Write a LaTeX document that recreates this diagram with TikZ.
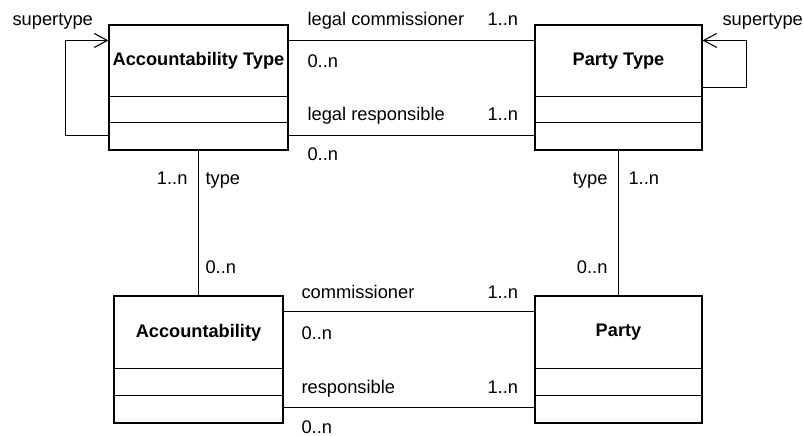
\documentclass[tikz,border=0pt]{standalone}
\usepackage{fontspec}
\setmainfont{Liberation Sans}
\usetikzlibrary{arrows.meta}

\begin{document}
\begin{tikzpicture}[x=1pt, y=-1pt, line width=1.1pt,
  every node/.style={font=\fontsize{18.3}{21}\selectfont, inner sep=0pt},
  classbox/.style={draw, rectangle},
  classname/.style={font=\fontsize{18.2}{21}\selectfont\bfseries},
  role/.style={anchor=base west},
  roleleft/.style={anchor=base east},
  super/.style={-{Straight Barb[length=13pt,width=14pt]}}]

  \useasboundingbox (0,0) rectangle (803,436);

  % classes
  \node (acctype) at (198.5, 87.5) [classbox, minimum width=179pt, minimum height=125pt] {};
  \node (acctype-name) at (198.5, 61) [classname] {Accountability Type};
  \draw ([yshift=-72pt]acctype.north west) -- ([yshift=-72pt]acctype.north east);
  \draw ([yshift=-98pt]acctype.north west) -- ([yshift=-98pt]acctype.north east);

  \node (partytype) at (618.5, 87.5) [classbox, minimum width=167pt, minimum height=125pt] {};
  \node (partytype-name) at (618.5, 61) [classname] {Party Type};
  \draw ([yshift=-72pt]partytype.north west) -- ([yshift=-72pt]partytype.north east);
  \draw ([yshift=-98pt]partytype.north west) -- ([yshift=-98pt]partytype.north east);

  \node (acc) at (198.5, 359.5) [classbox, minimum width=169pt, minimum height=127pt] {};
  \node (acc-name) at (198.5, 332.5) [classname] {Accountability};
  \draw ([yshift=-73pt]acc.north west) -- ([yshift=-73pt]acc.north east);
  \draw ([yshift=-100pt]acc.north west) -- ([yshift=-100pt]acc.north east);

  \node (party) at (618.5, 359.5) [classbox, minimum width=167pt, minimum height=127pt] {};
  \node (party-name) at (618.5, 332.5) [classname] {Party};
  \draw ([yshift=-73pt]party.north west) -- ([yshift=-73pt]party.north east);
  \draw ([yshift=-100pt]party.north west) -- ([yshift=-100pt]party.north east);

  % associations
  \draw ([yshift=-16pt]acctype.north east) -- ([yshift=-16pt]partytype.north west);
  \draw ([yshift=15pt]acctype.south east) -- ([yshift=15pt]partytype.south west);
  \draw ([yshift=-16pt]acc.north east) -- ([yshift=-16pt]party.north west);
  \draw ([yshift=16pt]acc.south east) -- ([yshift=16pt]party.south west);
  \draw (acctype.south) -- (acc.north);
  \draw (partytype.south) -- (party.north);

  % supertype loops
  \draw[super] ([yshift=15pt]acctype.south west) -- ++(-43,0) |- ([yshift=-16pt]acctype.north west);
  \draw[super] (partytype.east) -- ++(44,0) |- ([yshift=-16pt]partytype.north east);

  % roles and multiplicities
  \node (super-acc) at (12,26) [role] {supertype};
  \node (super-party) at (722,26) [role] {supertype};

  \node (lc-role) at (307,26) [role] {legal commissioner};
  \node (lc-many) at (487,26) [role] {1..n};
  \node (lc-acc) at (307,67) [role] {0..n};
  \node (lr-role) at (307,120) [role] {legal responsible};
  \node (lr-many) at (487,120) [role] {1..n};
  \node (lr-acc) at (307,160) [role] {0..n};

  \node (at-many) at (188,184) [roleleft] {1..n};
  \node (at-role) at (205,184) [role] {type};
  \node (at-acc) at (205,273) [role] {0..n};
  \node (pt-role) at (608,184) [roleleft] {type};
  \node (pt-many) at (628,184) [role] {1..n};
  \node (pt-party) at (608,273) [roleleft] {0..n};

  \node (c-role) at (301,298) [role] {commissioner};
  \node (c-many) at (487,298) [role] {1..n};
  \node (c-acc) at (301,339) [role] {0..n};
  \node (r-role) at (301,393) [role] {responsible};
  \node (r-many) at (487,393) [role] {1..n};
  \node (r-acc) at (301,433) [role] {0..n};

\end{tikzpicture}
\end{document}
